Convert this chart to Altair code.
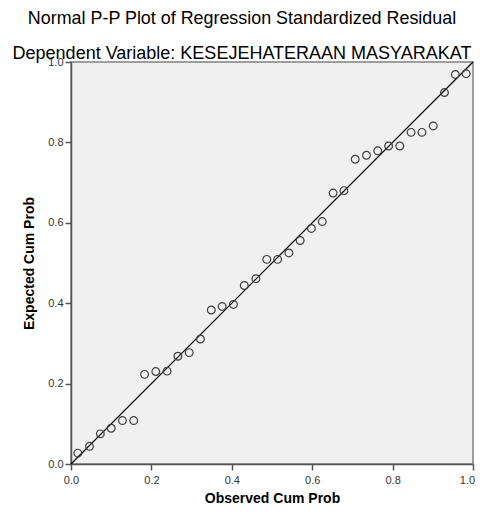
import altair as alt
import pandas as pd

observed = [0.017, 0.046, 0.073, 0.100, 0.128, 0.156, 0.183, 0.211, 0.239, 0.266,
            0.294, 0.322, 0.349, 0.376, 0.404, 0.431, 0.460, 0.487, 0.514, 0.542,
            0.570, 0.598, 0.625, 0.652, 0.679, 0.707, 0.735, 0.763, 0.790, 0.818,
            0.846, 0.873, 0.901, 0.929, 0.956, 0.983]
expected = [0.027, 0.044, 0.075, 0.089, 0.108, 0.108, 0.223, 0.230, 0.231, 0.268,
            0.277, 0.311, 0.383, 0.392, 0.397, 0.444, 0.461, 0.509, 0.509, 0.525,
            0.556, 0.586, 0.603, 0.674, 0.680, 0.758, 0.768, 0.779, 0.791, 0.791,
            0.825, 0.825, 0.841, 0.924, 0.969, 0.971]
diag = [0.0, 1.0]
ticks = [0.0, 0.2, 0.4, 0.6, 0.8, 1.0]

pts = pd.DataFrame({"obs": observed, "exp": expected})
line_df = pd.DataFrame({"obs": diag, "exp": diag})

FONT = "Liberation Sans"

xax = alt.X("obs:Q", scale=alt.Scale(domain=[0, 1], nice=False, zero=False),
            axis=alt.Axis(title="Observed Cum Prob", values=ticks, format=".1f",
                          grid=False, tickSize=6, labelPadding=4, titlePadding=6,
                          labelFlush=False,
                          labelOffset=alt.condition("datum.value == 1", alt.value(-6), alt.value(0)),
                          labelFont=FONT, labelFontSize=11, labelColor="#333333",
                          titleFont=FONT, titleFontSize=14, titleFontWeight="bold",
                          titleColor="black", domainColor="#555555", tickColor="#555555",
                          domainWidth=1.5, tickWidth=1.5))
yax = alt.Y("exp:Q", scale=alt.Scale(domain=[0, 1], nice=False, zero=False),
            axis=alt.Axis(title="Expected Cum Prob", values=ticks, format=".1f",
                          grid=False, tickSize=6, labelPadding=2, titlePadding=11,
                          labelFont=FONT, labelFontSize=11, labelColor="#333333",
                          titleFont=FONT, titleFontSize=14, titleFontWeight="bold",
                          titleColor="black", domainColor="#555555", tickColor="#555555",
                          domainWidth=1.5, tickWidth=1.5))

line = alt.Chart(line_df).mark_line(color="black", strokeWidth=1.2).encode(x=xax, y=yax)
points = alt.Chart(pts).mark_point(shape="circle", filled=False, size=60,
                                   stroke="#404040", strokeWidth=1.2, opacity=1).encode(x=xax, y=yax)

chart = alt.layer(line, points).properties(
    width=402, height=402,
    autosize=alt.AutoSizeParams(type="none"),
    padding={"left": 63, "top": 54, "right": 2, "bottom": 41},
    title=alt.TitleParams(
        text="Normal P-P Plot of Regression Standardized Residual",
        subtitle="Dependent Variable: KESEJEHATERAAN MASYARAKAT",
        anchor="middle", dx=-30, offset=-7,
        font=FONT, fontSize=17.9, fontWeight="normal", color="black",
        subtitleFont=FONT, subtitleFontSize=18, subtitleColor="black",
        subtitlePadding=17),
).configure_view(fill="#F0F0F0", stroke="#808080", strokeWidth=1.5)

chart.save("out.html", embed_options={"renderer": "svg", "actions": False})
